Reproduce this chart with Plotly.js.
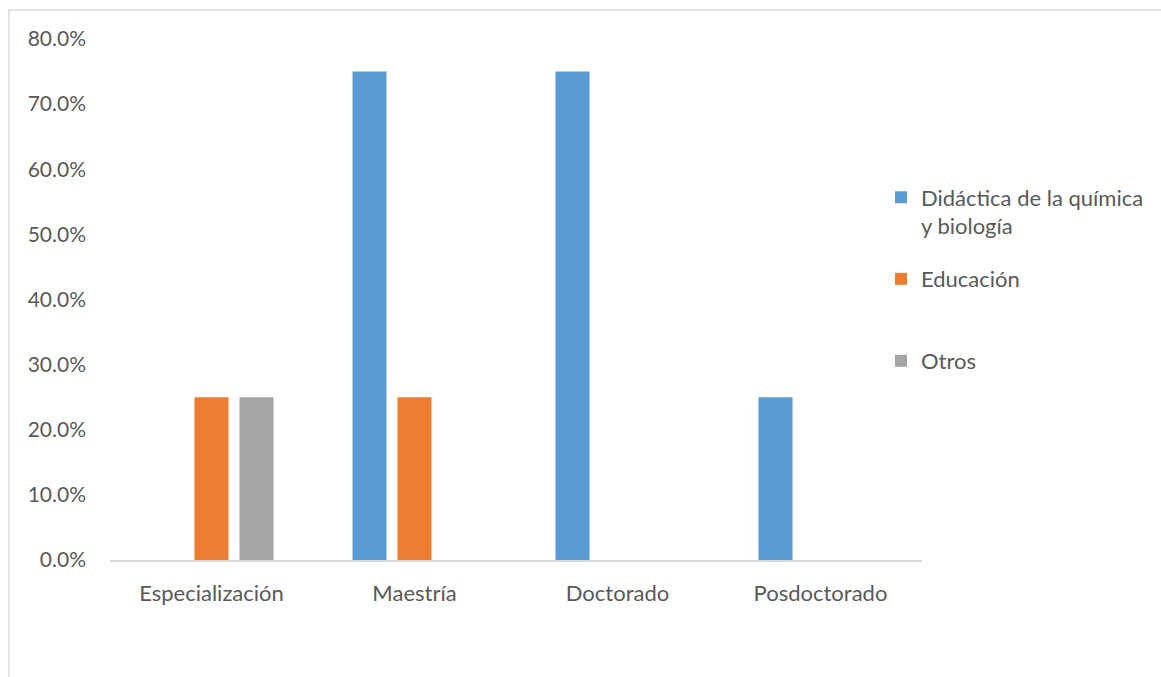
<!DOCTYPE html>
<html>
<head>
<meta charset="utf-8">
<script src="https://cdn.plot.ly/plotly-3.0.1.min.js"></script>
<style>html,body{margin:0;padding:0;background:#fff;}#chart{width:1161px;height:677px;}</style>
</head>
<body>
<div id="chart"></div>
<script>
const categories = ["Especialización", "Maestría", "Doctorado", "Posdoctorado"];
const didactica = [0, 75, 75, 25];
const educacion = [25, 25, 0, 0];
const otros = [25, 0, 0, 0];
const seriesNames = ["Didáctica de la química<br>y biología", "Educación", "Otros"];
const yTickVals = [0, 10, 20, 30, 40, 50, 60, 70, 80];
const yTickText = ["0.0%", "10.0%", "20.0%", "30.0%", "40.0%", "50.0%", "60.0%", "70.0%", "80.0%"];

const colors = ["#5B9BD5", "#ED7D31", "#A5A5A5"];
const family = "Lato, 'Open Sans', sans-serif";
const font = {family: family, size: 22, color: "#595959"};
const yfont = {family: family, size: 21, color: "#595959"};

const traces = [didactica, educacion, otros].map((vals, i) => ({
  type: "bar",
  x: categories,
  y: vals,
  name: seriesNames[i],
  marker: {color: colors[i]},
  legend: i === 0 ? "legend" : "legend" + (i + 1),
  hoverinfo: "x+y+name"
}));

const legendBase = {x: 0.9495, xanchor: "left", yanchor: "middle", font: font, bgcolor: "rgba(0,0,0,0)", borderwidth: 0, valign: "top"};

const layout = {
  width: 1161, height: 677,
  margin: {l: 110, r: 239, t: 39, b: 117},
  paper_bgcolor: "#fff", plot_bgcolor: "#fff",
  font: font,
  barmode: "group",
  bargap: 0.335,
  bargroupgap: 0.244,
  xaxis: {
    type: "category",
    showline: true, linecolor: "#D9D9D9", linewidth: 2,
    showgrid: false, zeroline: false, ticks: "",
    ticklabelstandoff: 13,
    tickfont: font
  },
  yaxis: {
    range: [0, 80],
    tickvals: yTickVals, ticktext: yTickText,
    showline: false, showgrid: false, zeroline: false, ticks: "",
    ticklabelstandoff: 23,
    tickfont: yfont
  },
  showlegend: true,
  legend: Object.assign({}, legendBase, {y: 0.668}),
  legend2: Object.assign({}, legendBase, {y: 0.5393}),
  legend3: Object.assign({}, legendBase, {y: 0.382}),
  shapes: [{
    type: "rect", xref: "paper", yref: "paper",
    x0: -0.1244, x1: 1.35, y0: -0.3, y1: 1.0557,
    line: {color: "#D9D9D9", width: 1.5}, fillcolor: "rgba(0,0,0,0)", layer: "below"
  }]
};

Plotly.newPlot("chart", traces, layout, {displayModeBar: false, responsive: false});
</script>
</body>
</html>
